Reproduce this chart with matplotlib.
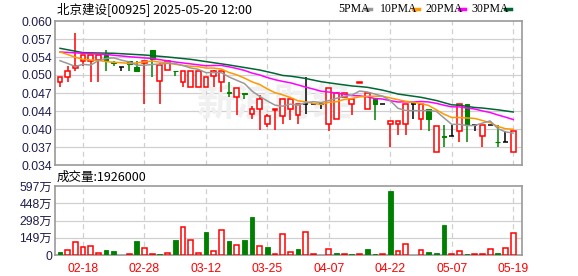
import numpy as np
import pandas as pd
import matplotlib
matplotlib.use('Agg')
import matplotlib.pyplot as plt
from matplotlib.patches import Rectangle

plt.rcParams['font.family'] = ['Liberation Sans', 'Noto Sans CJK SC', 'DejaVu Sans']

# daily candles, 60 trading days
opens = [0.0490, 0.0499, 0.05157, 0.0528, 0.0528, 0.0530, 0.0539, 0.0525, 0.05175, 0.0528,
         0.05175, 0.0525, 0.0548, 0.0492, 0.0511, 0.0510, 0.0490, 0.0481, 0.0481, 0.0481,
         0.0501, 0.0490, 0.0471, 0.0462, 0.0470, 0.0432, 0.0442, 0.0414, 0.0440, 0.0429,
         0.0442, 0.0430, 0.0451, 0.0451, 0.0451, 0.0414, 0.0423, 0.0463, 0.0451, 0.04885,
         0.0442, 0.0459, 0.0451, 0.0414, 0.0414, 0.0414, 0.0450, 0.0423, 0.0441, 0.0364,
         0.0392, 0.0392, 0.0402, 0.0450, 0.0412, 0.0392, 0.0412, 0.0382, 0.0382, 0.0363]
highs = [0.0498, 0.0519, 0.0579, 0.0538, 0.0538, 0.0539, 0.0547, 0.0528, 0.05175, 0.0528,
         0.0528, 0.0528, 0.0548, 0.0525, 0.0530, 0.0510, 0.0509, 0.0509, 0.0509, 0.0498,
         0.0511, 0.0509, 0.0489, 0.0479, 0.0470, 0.0447, 0.0466, 0.0432, 0.0441, 0.0460,
         0.0460, 0.0450, 0.0498, 0.0452, 0.0451, 0.0479, 0.0471, 0.0470, 0.0460, 0.0489,
         0.0470, 0.0459, 0.0451, 0.0420, 0.0420, 0.0450, 0.0450, 0.0450, 0.0441, 0.0411,
         0.0412, 0.0412, 0.0450, 0.0450, 0.0412, 0.0412, 0.0412, 0.0412, 0.0402, 0.0401]
lows = [0.0480, 0.0490, 0.0510, 0.0519, 0.0490, 0.0490, 0.0510, 0.0519, 0.0510, 0.0510,
        0.0510, 0.0451, 0.0499, 0.0451, 0.0511, 0.0500, 0.0480, 0.0481, 0.0481, 0.0481,
        0.0481, 0.0472, 0.0462, 0.0430, 0.0460, 0.0423, 0.0403, 0.0409, 0.0403, 0.0414,
        0.0421, 0.0414, 0.0432, 0.0450, 0.0442, 0.0401, 0.0423, 0.0463, 0.0430, 0.04885,
        0.0442, 0.0421, 0.0451, 0.0373, 0.0394, 0.0394, 0.0423, 0.0403, 0.0402, 0.0364,
        0.0373, 0.0392, 0.0382, 0.0382, 0.0402, 0.0373, 0.0412, 0.0373, 0.0382, 0.0363]
closes = [0.0498, 0.0509, 0.05187, 0.0538, 0.0538, 0.0539, 0.0528, 0.0524, 0.05175, 0.0522,
          0.0510, 0.0527, 0.0531, 0.0521, 0.0528, 0.0509, 0.0509, 0.0509, 0.0509, 0.0498,
          0.0509, 0.0509, 0.0470, 0.0479, 0.0469, 0.0441, 0.0460, 0.0429, 0.0441, 0.0460,
          0.0460, 0.0450, 0.0451, 0.0451, 0.0451, 0.0479, 0.0470, 0.0470, 0.0460, 0.0489,
          0.0470, 0.0451, 0.0451, 0.0420, 0.0420, 0.0450, 0.0450, 0.0450, 0.0423, 0.0411,
          0.0391, 0.0392, 0.0450, 0.0412, 0.0412, 0.0412, 0.0412, 0.0381, 0.0382, 0.0401]
volumes = [0.26, 0.43, 1.10, 0.67, 0.75, 0.15, 0.43, 0.35, 0.0, 0.06,
           1.21, 0.58, 0.05, 0.08, 0.17, 1.30, 2.40, 1.30, 0.15, 1.99,
           0.35, 2.14, 1.21, 0.84, 1.30, 3.29, 0.78, 0.67, 0.06, 1.79,
           0.26, 0.52, 1.96, 0.09, 0.0, 0.49, 0.17, 0.09, 0.09, 0.09,
           0.52, 0.09, 0.09, 5.54, 0.35, 0.95, 0.0, 0.40, 0.26, 0.17,
           2.60, 0.06, 0.32, 0.09, 0.06, 0.06, 0.49, 0.20, 0.58, 1.926]  # millions
vol_up = [0, 1, 1, 1, 1, 1, 0, 0, 1, 1,
          0, 1, 1, 0, 1, 0, 1, 1, 1, 0,
          1, 1, 0, 1, 0, 0, 1, 0, 1, 1,
          1, 0, 1, 1, 1, 1, 0, 1, 0, 1,
          0, 0, 1, 0, 1, 1, 1, 1, 0, 0,
          0, 1, 1, 0, 1, 1, 1, 0, 1, 1]

# moving averages before enough days are on screen
ma5_head_idx = [0, 1, 2, 3]
ma5_head = [0.05283, 0.05233, 0.05178, 0.05218]
ma10_head_idx = [0, 1, 2, 3, 4, 5, 6, 7, 8]
ma10_head = [0.0544, 0.05395, 0.05345, 0.05308, 0.05296, 0.05287, 0.05269, 0.05254, 0.05247]
ma20_head_idx = [0, 3, 6, 9, 12, 15, 18]
ma20_head = [0.0544, 0.05417, 0.05395, 0.05355, 0.05323, 0.0526, 0.05209]
ma30_head_idx = [0, 3, 7, 11, 14, 17, 22, 26, 28]
ma30_head = [0.05507, 0.05428, 0.05417, 0.05386, 0.0535, 0.05308, 0.05206, 0.05115, 0.05052]

date_idx = [3, 11, 19, 27, 35, 43, 51, 59]
date_labels = ['02-18', '02-28', '03-12', '03-25', '04-07', '04-22', '05-07', '05-19']
price_ticks = list(np.linspace(0.034, 0.060, 9))
price_labels = ['0.034', '0.037', '0.040', '0.044', '0.047', '0.050', '0.054', '0.057', '0.060']
vol_ticks = [0, 1.4925, 2.985, 4.4775, 5.97]
vol_labels = ['0', '149万', '298万', '448万', '597万']

RED = '#ff0000'
GREEN = '#008000'
MA_COLORS = {'5PMA': '#999999', '10PMA': '#ff9900', '20PMA': '#ff00ff', '30PMA': '#006633'}
GRID = '#d0d0d0'
BORDER = '#999999'
LABEL = '#1e1e4e'

n = len(closes)
x = np.arange(n)
w = 0.62

fig = plt.figure(figsize=(5.78, 2.76), dpi=100)
ax = fig.add_axes([55 / 578, 1 - 165 / 276, 467 / 578, 144 / 276])
axv = fig.add_axes([55 / 578, 1 - 255 / 276, 467 / 578, 69 / 276])

for a in (ax, axv):
    a.set_xlim(-0.65, 60.15)
    for s in a.spines.values():
        s.set_color(BORDER)
        s.set_linewidth(1.2)
    a.tick_params(length=0, pad=2)
    a.set_xticks([])
    for d in date_idx:
        a.axvline(d, color=GRID, lw=0.9, ls=(0, (4, 3)), zorder=0)

ax.set_ylim(0.034, 0.060)
ax.set_yticks(price_ticks)
ax.set_yticklabels(price_labels, fontsize=8.8, color=LABEL)
for t in price_ticks[1:-1]:
    ax.axhline(t, color=GRID, lw=0.9, zorder=0)

# watermark
ax.text(0.47, 0.42, '新浪财经', transform=ax.transAxes, fontsize=28, color='#f0f0f0',
        family=['Noto Sans CJK SC'], ha='center', va='center', zorder=0, fontweight='bold')

# candles
for i in x:
    o, h, l, c = opens[i], highs[i], lows[i], closes[i]
    if c > o:
        ax.vlines(i, l, h, color=RED, lw=1.1, zorder=2)
        ax.add_patch(Rectangle((i - w / 2, o), w, c - o, facecolor='white', edgecolor=RED,
                               lw=1.1, zorder=3))
    elif c < o:
        ax.vlines(i, l, h, color=GREEN, lw=1.1, zorder=2)
        ax.add_patch(Rectangle((i - w / 2, c), w, max(o - c, 0.00012), facecolor=GREEN,
                               edgecolor=GREEN, lw=0.8, zorder=3))
    else:
        ax.vlines(i, l, h, color='black', lw=1.1, zorder=2)
        ax.hlines(c, i - w / 2, i + w / 2, color='black', lw=1.1, zorder=3)

# moving averages: read values first, then the rolling mean of the closes
close_s = pd.Series(closes)
for name, win, hidx, hval in [('30PMA', 30, ma30_head_idx, ma30_head),
                              ('20PMA', 20, ma20_head_idx, ma20_head),
                              ('10PMA', 10, ma10_head_idx, ma10_head),
                              ('5PMA', 5, ma5_head_idx, ma5_head)]:
    ma = close_s.rolling(win).mean()
    xs = list(hidx) + list(range(win - 1, n))
    ys = list(hval) + list(ma.iloc[win - 1:])
    ax.plot(xs, ys, color=MA_COLORS[name], lw=1.1, zorder=4)

# volume
axv.set_ylim(0, 5.97)
axv.set_yticks(vol_ticks)
axv.set_yticklabels(vol_labels, fontsize=8.8, color=LABEL)
for t in vol_ticks[1:-1]:
    axv.axhline(t, color=GRID, lw=0.9, zorder=0)
for i in x:
    v = volumes[i]
    if v <= 0:
        continue
    if vol_up[i]:
        axv.add_patch(Rectangle((i - w / 2, 0), w, v, facecolor='white', edgecolor=RED,
                                lw=1.1, zorder=3))
    else:
        axv.add_patch(Rectangle((i - w / 2, 0), w, v, facecolor=GREEN, edgecolor=GREEN,
                                lw=0.6, zorder=3))

for d, lab in zip(date_idx, date_labels):
    axv.text(d, -0.12, lab, transform=axv.get_xaxis_transform(), ha='center', va='top',
             fontsize=8.8, color=RED)

# header texts
fig.text(57 / 578, 1 - 9 / 276, '北京建设[00925] 2025-05-20 12:00', fontsize=9, color='black',
         va='center', ha='left', family=['Noto Sans CJK SC', 'DejaVu Sans'])
fig.text(57 / 578, 1 - 177 / 276, '成交量:1926000', fontsize=9, color='black',
         va='center', ha='left', family=['Noto Sans CJK SC', 'DejaVu Sans'])

leg_x = [338, 380, 425, 471]
dash_x = [365, 413, 459, 505]
for (name, col), lx, dx in zip(MA_COLORS.items(), leg_x, dash_x):
    fig.text(lx / 578, 1 - 9 / 276, name, fontsize=8.5, color='black', va='center', ha='left',
             family=['Liberation Serif'])
    fig.add_artist(plt.Line2D([dx / 578, (dx + 6) / 578], [1 - 9 / 276, 1 - 9 / 276],
                              color=col, lw=2.5, transform=fig.transFigure))

fig.savefig('out.png', dpi=100, facecolor='white')
